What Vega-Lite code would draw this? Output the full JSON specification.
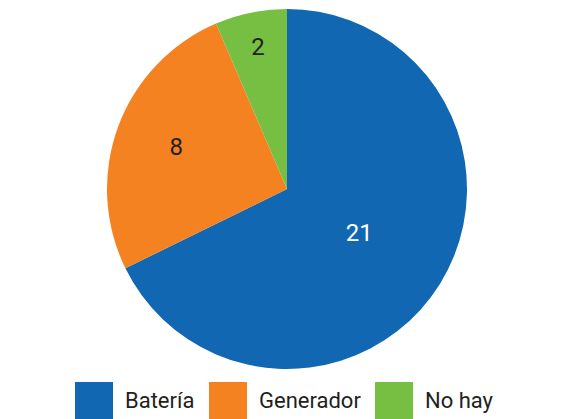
{
  "$schema": "https://vega.github.io/schema/vega-lite/v6.json",
  "width": 574,
  "height": 378,
  "autosize": "none",
  "padding": {"top": 0, "left": 0, "right": 0, "bottom": 41},
  "background": "white",
  "data": {"values": [
    {"fuente": "Batería", "n": 21},
    {"fuente": "Generador", "n": 8},
    {"fuente": "No hay", "n": 2}
  ]},
  "encoding": {
    "theta": {"field": "n", "type": "quantitative", "stack": true},
    "color": {
      "field": "fuente", "type": "nominal",
      "scale": {"domain": ["Batería", "Generador", "No hay"], "range": ["#1167b1", "#f48221", "#76bf43"]},
      "legend": {
        "title": null, "orient": "none", "direction": "horizontal",
        "legendX": 75, "legendY": 382,
        "symbolType": "square", "symbolSize": 1444, "symbolStrokeWidth": 0,
        "symbolOpacity": 1,
        "labelFont": "Roboto", "labelFontSize": 22, "labelColor": "#231f20",
        "labelOffset": 12, "columnPadding": 14
      }
    }
  },
  "layer": [
    {"mark": {"type": "arc", "outerRadius": 180, "stroke": null}},
    {
      "mark": {"type": "text", "font": "Roboto", "fontSize": 24},
      "encoding": {
        "text": {"field": "n", "type": "quantitative"},
        "radius": {"field": "n", "type": "quantitative", "scale": {"type": "linear", "zero": false, "domain": [2, 8, 21], "range": [144, 118, 85]}},
        "color": {"field": "fuente", "type": "nominal", "scale": {"domain": ["Batería", "Generador", "No hay"], "range": ["#ffffff", "#231f20", "#231f20"]}, "legend": null}
      }
    }
  ],
  "resolve": {"scale": {"color": "independent"}},
  "config": {"view": {"stroke": null}}
}
